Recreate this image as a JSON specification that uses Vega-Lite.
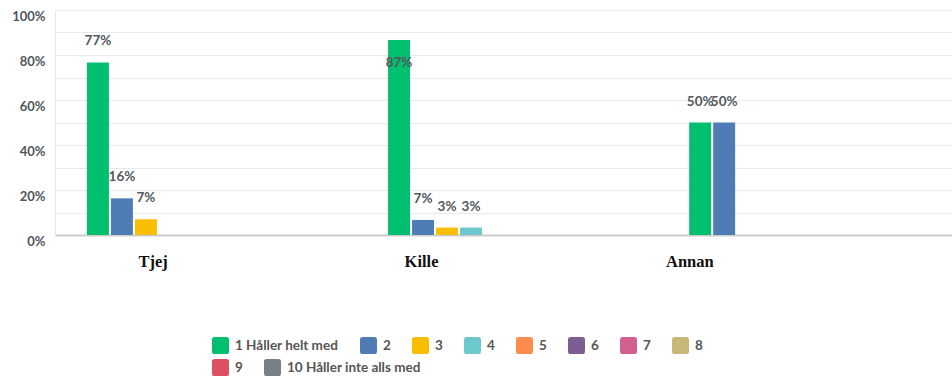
{
  "$schema": "https://vega.github.io/schema/vega-lite/v6.json",
  "width": 904,
  "height": 225,
  "autosize": "none",
  "padding": {"left": 55, "top": 10, "right": 0, "bottom": 141},
  "background": "white",
  "data": {
    "values": [
      {"group": "Tjej", "answer": "1 Håller helt med", "pct": 0.767},
      {"group": "Tjej", "answer": "2", "pct": 0.163},
      {"group": "Tjej", "answer": "3", "pct": 0.07},
      {"group": "Kille", "answer": "1 Håller helt med", "pct": 0.867},
      {"group": "Kille", "answer": "2", "pct": 0.067},
      {"group": "Kille", "answer": "3", "pct": 0.033},
      {"group": "Kille", "answer": "4", "pct": 0.033},
      {"group": "Annan", "answer": "1 Håller helt med", "pct": 0.5},
      {"group": "Annan", "answer": "2", "pct": 0.5}
    ]
  },
  "encoding": {
    "x": {
      "field": "group",
      "type": "nominal",
      "sort": ["Tjej", "Kille", "Annan"],
      "scale": {"paddingInner": 0.21, "paddingOuter": 0.106},
      "axis": {
        "title": null,
        "labelAngle": 0,
        "ticks": false,
        "grid": false,
        "domainColor": "#cccccc",
        "domainWidth": 2,
        "labelFont": "Liberation Serif",
        "labelFontWeight": "bold",
        "labelFontSize": 16.5,
        "labelColor": "#111111",
        "labelPadding": 18,
        "labelOffset": {"expr": "-52.7 - 65.6 * datum.index"}
      }
    },
    "xOffset": {
      "field": "answer",
      "type": "nominal",
      "scale": {
        "domain": ["1 Håller helt med", "2", "3", "4", "5", "6", "7", "8", "9", "10 Håller inte alls med"],
        "paddingInner": 0.083,
        "paddingOuter": 0
      }
    },
    "y": {
      "field": "pct",
      "type": "quantitative",
      "scale": {"domain": [0, 1]},
      "axis": {
        "title": null,
        "values": [0, 0.1, 0.2, 0.3, 0.4, 0.5, 0.6, 0.7, 0.8, 0.9, 1],
        "labelExpr": "(round(datum.value * 100) % 20 == 0) ? format(datum.value, '.0%') : ''",
        "labelBaseline": "top",
        "labelAlign": "right",
        "labelFont": "Lato",
        "labelFontWeight": "bold",
        "labelFontSize": 13,
        "labelColor": "#4f555a",
        "labelPadding": 10,
        "labelOverlap": false,
        "labelBound": false,
        "ticks": false,
        "domainColor": "#e6e6e6",
        "gridColor": "#e9e9e9"
      }
    }
  },
  "layer": [
    {
      "transform": [{"filter": "datum.answer != '9' && datum.answer != '10 Håller inte alls med'"}],
      "mark": {"type": "bar"},
      "encoding": {
        "color": {
          "field": "answer",
          "type": "nominal",
          "scale": {
            "domain": ["1 Håller helt med", "2", "3", "4", "5", "6", "7", "8"],
            "range": ["#00BF6F", "#507CB6", "#F9BE00", "#6BC8CD", "#FF8B4F", "#7D5E90", "#D25F90", "#C7B879"]
          },
          "legend": {
            "title": null,
            "orient": "none",
            "legendX": 157,
            "legendY": 327,
            "direction": "horizontal",
            "symbolType": "M -0.7 -1 L 0.7 -1 Q 1 -1 1 -0.7 L 1 0.7 Q 1 1 0.7 1 L -0.7 1 Q -1 1 -1 0.7 L -1 -0.7 Q -1 -1 -0.7 -1 Z",
            "symbolSize": 289,
            "symbolStrokeWidth": 0,
            "labelFont": "Lato",
            "labelFontWeight": "bold",
            "labelFontSize": 13.5,
            "labelColor": "#555555",
            "labelOffset": 6,
            "columnPadding": 21,
            "padding": 0
          }
        }
      }
    },
    {
      "transform": [{"filter": "datum.answer == '9' || datum.answer == '10 Håller inte alls med'"}],
      "mark": {"type": "bar"},
      "encoding": {
        "color": {
          "field": "answer",
          "type": "nominal",
          "scale": {
            "domain": ["9", "10 Håller inte alls med"],
            "range": ["#DC5062", "#768086"]
          },
          "legend": {
            "title": null,
            "orient": "none",
            "legendX": 157,
            "legendY": 349,
            "direction": "horizontal",
            "symbolType": "M -0.7 -1 L 0.7 -1 Q 1 -1 1 -0.7 L 1 0.7 Q 1 1 0.7 1 L -0.7 1 Q -1 1 -1 0.7 L -1 -0.7 Q -1 -1 -0.7 -1 Z",
            "symbolSize": 289,
            "symbolStrokeWidth": 0,
            "labelFont": "Lato",
            "labelFontWeight": "bold",
            "labelFontSize": 13.5,
            "labelColor": "#555555",
            "labelOffset": 6,
            "columnPadding": 21,
            "padding": 0
          }
        }
      }
    },
    {
      "transform": [{"filter": "datum.pct <= 0.8"}],
      "mark": {"type": "text", "dy": -17, "baseline": "alphabetic", "font": "Lato", "fontWeight": "bold", "fontSize": 13.5, "color": "#53595e"},
      "encoding": {"text": {"field": "pct", "type": "quantitative", "format": ".0%"}}
    },
    {
      "transform": [{"filter": "datum.pct > 0.8"}],
      "mark": {"type": "text", "dy": 27, "baseline": "alphabetic", "font": "Lato", "fontWeight": "bold", "fontSize": 13.5, "color": "#53595e"},
      "encoding": {"text": {"field": "pct", "type": "quantitative", "format": ".0%"}}
    }
  ],
  "resolve": {"scale": {"color": "independent"}, "legend": {"color": "independent"}},
  "config": {"view": {"stroke": null}}
}
